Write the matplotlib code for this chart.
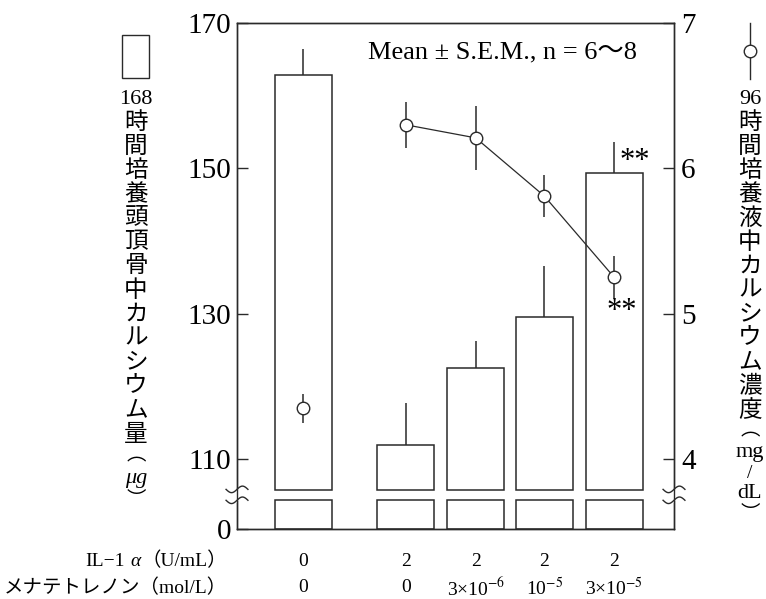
import numpy as np
import matplotlib.pyplot as plt
from matplotlib.patches import Rectangle
from matplotlib.lines import Line2D
import matplotlib.transforms as mtransforms

plt.rcParams['font.family'] = ['Liberation Serif', 'Noto Sans CJK JP']
plt.rcParams['mathtext.fontset'] = 'stix'

# data
il1 = ['0', '2', '2', '2', '2']
menatetrenone = ['0', '0', r'3×10$^{-6}$', r'10$^{-5}$', r'3×10$^{-5}$']
bone_ca = [162.9, 111.9, 122.5, 129.5, 149.3]        # µg, 168 h
bone_ca_sem = [3.5, 5.8, 3.8, 7.1, 4.4]
medium_ca = [4.35, 6.30, 6.21, 5.81, 5.25]           # mg/dL, 96 h
medium_ca_sem = [0.10, 0.16, 0.22, 0.145, 0.15]
left_ticks = [110, 130, 150, 170]
right_ticks = [4, 5, 6, 7]

# layout (broken axis: 0 is drawn at BOT)
W, H = 766, 599
xpos = np.array([0.95, 2.41, 3.41, 4.39, 5.39])
BOT, LOW_TOP, BRK = 100.4, 104.4, 105.8
YTOP = 170


def fx(px):
    return px / W


def fy(py):
    return 1 - py / H


fig = plt.figure(figsize=(W / 100, H / 100), dpi=100)
ax = fig.add_axes([fx(237), fy(529), (674 - 237) / W, (529 - 23) / H])
ax.set_xlim(0, 6.243)
ax.set_ylim(BOT, YTOP)

# bars, drawn in two pieces around the break
ec = '#2a2a2a'
ax.bar(xpos, LOW_TOP - BOT, bottom=BOT, width=0.814, facecolor='white',
       edgecolor=ec, linewidth=1.1, zorder=2)
ax.bar(xpos, np.array(bone_ca) - BRK, bottom=BRK, width=0.814,
       facecolor='white', edgecolor=ec, linewidth=1.1, zorder=2)
ax.errorbar(xpos, bone_ca, yerr=[np.zeros(5), bone_ca_sem], fmt='none',
            ecolor=ec, elinewidth=1.1, capsize=0, zorder=1)

# medium calcium on the right axis
ax2 = ax.twinx()
ax2.set_ylim((BOT - 30) / 20, (YTOP - 30) / 20)
ax2.errorbar(xpos[0], medium_ca[0], yerr=medium_ca_sem[0], fmt='o',
             color=ec, mfc='white', mec=ec, ms=9, mew=1.0, elinewidth=1.1,
             capsize=0, zorder=3)
ax2.errorbar(xpos[1:], medium_ca[1:], yerr=medium_ca_sem[1:], fmt='-o',
             color=ec, mfc='white', mec=ec, ms=9, mew=1.0, lw=0.9,
             elinewidth=1.1, capsize=0, zorder=3)

for a in (ax, ax2):
    for s in a.spines.values():
        s.set_linewidth(1.0)
        s.set_color(ec)
    a.set_xticks([])

ax.set_yticks([BOT] + left_ticks)
ax.set_yticklabels(['0'] + [str(t) for t in left_ticks])
ax.tick_params(axis='y', direction='in', length=8, width=1.0, pad=4,
               labelsize=21, color=ec)
ax2.set_yticks(right_ticks)
ax2.set_yticklabels([str(t) for t in right_ticks])
ax2.tick_params(axis='y', direction='in', length=8, width=1.0, pad=5,
                labelsize=21, color=ec)

# break marks on both spines
for xa in (0.0, 1.0):
    tr = mtransforms.blended_transform_factory(ax.transAxes, ax.transData)
    t = np.linspace(-1, 1, 40)
    xs = xa + t * 0.025
    w = np.sin(t * np.pi) * 0.45
    y1 = (LOW_TOP + BRK) / 2 - 0.75
    y2 = (LOW_TOP + BRK) / 2 + 0.75
    ax.fill_between(xs, y1 + w, y2 + w, color='white', transform=tr,
                    clip_on=False, zorder=5)
    ax.plot(xs, y1 + w, color=ec, lw=1.0, transform=tr, clip_on=False, zorder=6)
    ax.plot(xs, y2 + w, color=ec, lw=1.0, transform=tr, clip_on=False, zorder=6)

# annotations
fig.text(fx(502), fy(58), 'Mean ± S.E.M., n = 6〜8', ha='center',
         va='baseline', fontsize=19)
fig.text(fx(635), fy(162), '**', ha='center', va='center', fontsize=22)
fig.text(fx(622), fy(312), '**', ha='center', va='center', fontsize=22)

# category rows
for x, a, b in zip(xpos, il1, menatetrenone):
    px = 237 + x * 70
    fig.text(fx(px), fy(561), a, ha='center', va='center', fontsize=14)
    fig.text(fx(px), fy(588), b, ha='center', va='center', fontsize=14)
unit1 = fig.text(fx(227), fy(561), '（U/mL）', ha='right', va='center',
                 fontsize=14)
fig.text(fx(227), fy(588), 'メナテトレノン（mol/L）', ha='right', va='center',
         fontsize=14)
renderer = fig.canvas.get_renderer()
bb = unit1.get_window_extent(renderer)
alpha_t = fig.text(bb.x0 / W - fx(1), fy(561), 'α', ha='right', va='center',
                   fontsize=14, style='italic')
bb = alpha_t.get_window_extent(renderer)
fig.text(bb.x0 / W - fx(5), fy(561), 'IL−1', ha='right', va='center',
         fontsize=14)

# left legend and vertical label
fig.add_artist(Rectangle((fx(122), fy(78)), fx(27), 43 / H, facecolor='white',
                         edgecolor=ec, lw=1.0))
left_chars = ['168'] + list('時間培養頭頂骨中カルシウム量')
left_y = [100] + [123 + 24 * i for i in range(14)]
left_chars += ['︵', 'μg', '︶']
left_y += [456, 478, 500]
for c, y in zip(left_chars, left_y):
    fs = 14 if c in '︵︶' else (17 if len(c) == 1 else 16)
    fig.text(fx(136), fy(y), c, ha='center', va='center', fontsize=fs,
             style='italic' if c == 'μg' else 'normal')

# right legend and vertical label
fig.add_artist(Line2D([fx(750), fx(750)], [fy(23), fy(79)], color=ec, lw=1.0))
fig.add_artist(Line2D([fx(750)], [fy(51)], marker='o', ms=9, mfc='white',
                      mec=ec, mew=1.0))
right_chars = ['96'] + list('時間培養液中カルシウム濃度')
right_y = [100] + [123 + 24 * i for i in range(13)]
right_chars += ['︵', 'mg', '/', 'dL', '︶']
right_y += [431, 453, 473, 493, 515]
for c, y in zip(right_chars, right_y):
    if c in '︵︶/':
        fs = 14
    else:
        fs = 17 if len(c) == 1 else 16
    fig.text(fx(750), fy(y), c, ha='center', va='center', fontsize=fs)

fig.savefig('out.png', dpi=100)
